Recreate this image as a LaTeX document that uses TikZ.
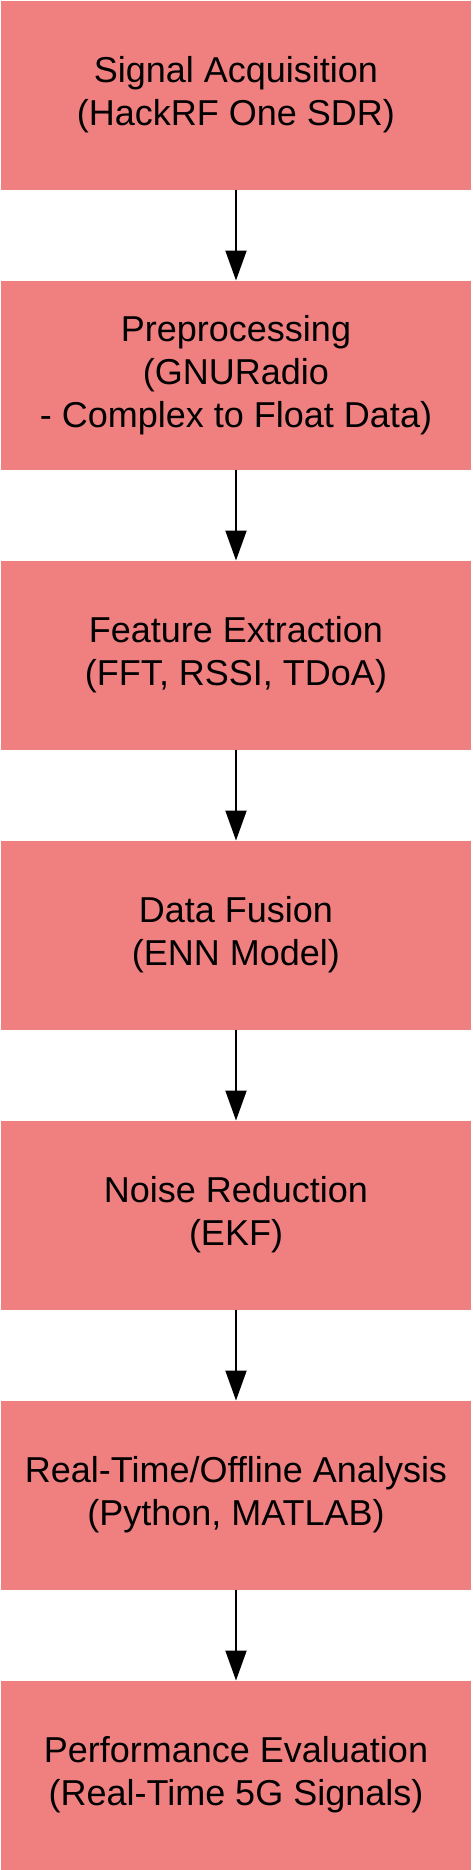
\documentclass[tikz,border=0pt]{standalone}
\usepackage{fontspec}
\setmainfont{Liberation Sans}
\usetikzlibrary{arrows.meta}
\definecolor{boxred}{HTML}{F08080}

\begin{document}
\begin{tikzpicture}[x=1pt, y=1pt]
    \useasboundingbox (0, 0) rectangle (236, -935);
    \begin{scope}[all/.style={fill=boxred, minimum width=235pt, minimum height=94.5pt, inner sep=0pt, outer sep=0pt, align=center, font=\fontsize{18}{21.65}\selectfont}]
        \node[all] (b0) at (118, -47.5) {Signal Acquisition\\(HackRF One SDR)};
        \node[all] (b1) at (118, -187.5) {Preprocessing\\(GNURadio\\- Complex to Float Data)};
        \node[all] (b2) at (118, -327.5) {Feature Extraction\\(FFT, RSSI, TDoA)};
        \node[all] (b3) at (118, -467.5) {Data Fusion\\(ENN Model)};
        \node[all] (b4) at (118, -607.5) {Noise Reduction\\(EKF)};
        \node[all] (b5) at (118, -747.5) {Real-Time/Offline Analysis\\(Python, MATLAB)};
        \node[all] (b6) at (118, -887.5) {Performance Evaluation\\(Real-Time 5G Signals)};
        \begin{scope}[line width=1pt]
        \path[-{Triangle[length=15pt, width=10.5pt]}] (b0) edge (b1) ;
        \path[-{Triangle[length=15pt, width=10.5pt]}] (b1) edge (b2) ;
        \path[-{Triangle[length=15pt, width=10.5pt]}] (b2) edge (b3) ;
        \path[-{Triangle[length=15pt, width=10.5pt]}] (b3) edge (b4) ;
        \path[-{Triangle[length=15pt, width=10.5pt]}] (b4) edge (b5) ;
        \path[-{Triangle[length=15pt, width=10.5pt]}] (b5) edge (b6) ;
        \end{scope}
    \end{scope}
\end{tikzpicture}
\end{document}
